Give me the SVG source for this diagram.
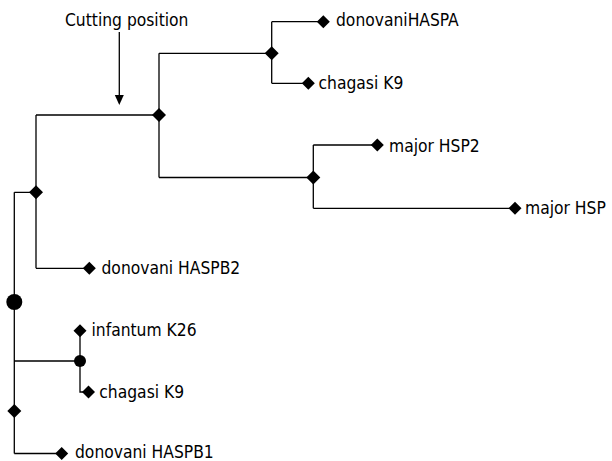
<svg xmlns="http://www.w3.org/2000/svg" width="612" height="461" viewBox="0 0 612 461">
  <defs>
    <style>
      .edge { fill: none; stroke: #000; stroke-width: 1.3; }
      .node { fill: #000; stroke: none; }
      .label { font-family: "DejaVu Sans Condensed", "DejaVu Sans", "Liberation Sans", sans-serif; font-stretch: condensed; font-size: 17.3px; fill: #000; }
    </style>
    <path id="dia" d="M0,-7 L7,0 L0,7 L-7,0 Z"/>
    <path id="diaS" d="M0,-6.5 L6.5,0 L0,6.5 L-6.5,0 Z"/>
  </defs>
  <rect width="612" height="461" fill="#fff"/>

  <g id="connectors">
    <path class="edge" d="M14.3,192.3 V453.5 M14.3,192.3 H36 M14.3,453.5 H61.7 M14.3,361 H80"/>
    <path class="edge" d="M36,115 V268.3 M36,115 H159 M36,268.3 H89.3"/>
    <path class="edge" d="M159,53.3 V177.5 M159,53.3 H271.7 M159,177.5 H313.3"/>
    <path class="edge" d="M271.7,21.7 V83.3 M271.7,21.7 H323.3 M271.7,83.3 H308.3"/>
    <path class="edge" d="M313.3,145 V208.3 M313.3,145 H377.3 M313.3,208.3 H515"/>
    <path class="edge" d="M80,330.7 V392 H88.5"/>
  </g>

  <g id="cutting-position">
    <text class="label" x="65" y="26">Cutting position</text>
    <line x1="119.3" y1="32" x2="119.3" y2="96" stroke="#000" stroke-width="1.3"/>
    <path d="M114.8,95 L123.8,95 L119.3,105 Z" fill="#000"/>
  </g>

  <g id="n-root-circle"><circle class="node" cx="14.3" cy="302" r="8"/></g>
  <g id="n-lower-diamond"><use href="#dia" class="node" x="14.3" y="411"/></g>
  <g id="n-left"><use href="#dia" class="node" x="36" y="192.3"/></g>
  <g id="n-cut"><use href="#dia" class="node" x="159" y="115"/></g>
  <g id="n-upper"><use href="#dia" class="node" x="271.7" y="53.3"/></g>
  <g id="n-major"><use href="#dia" class="node" x="313.3" y="177.5"/></g>
  <g id="n-small-circle"><circle class="node" cx="80" cy="361" r="6"/></g>

  <g id="leaf-donovaniHASPA">
    <use href="#diaS" class="node" x="323.3" y="21.7"/>
    <text class="label" x="336" y="26">donovaniHASPA</text>
  </g>
  <g id="leaf-chagasi-K9-top">
    <use href="#diaS" class="node" x="308.3" y="83.3"/>
    <text class="label" x="318.5" y="88.5">chagasi K9</text>
  </g>
  <g id="leaf-major-HSP2">
    <use href="#diaS" class="node" x="377.3" y="145"/>
    <text class="label" x="389" y="151.5">major HSP2</text>
  </g>
  <g id="leaf-major-HSP">
    <use href="#diaS" class="node" x="515" y="208.3"/>
    <text class="label" x="525" y="213.5">major HSP</text>
  </g>
  <g id="leaf-donovani-HASPB2">
    <use href="#diaS" class="node" x="89.3" y="268.3"/>
    <text class="label" x="101.5" y="273.5">donovani HASPB2</text>
  </g>
  <g id="leaf-infantum-K26">
    <use href="#diaS" class="node" x="80" y="330.7"/>
    <text class="label" x="91.5" y="335.5">infantum K26</text>
  </g>
  <g id="leaf-chagasi-K9-bottom">
    <use href="#diaS" class="node" x="88.5" y="392"/>
    <text class="label" x="99.3" y="398">chagasi K9</text>
  </g>
  <g id="leaf-donovani-HASPB1">
    <use href="#diaS" class="node" x="61.7" y="453.5"/>
    <text class="label" x="75" y="457.5">donovani HASPB1</text>
  </g>
</svg>
